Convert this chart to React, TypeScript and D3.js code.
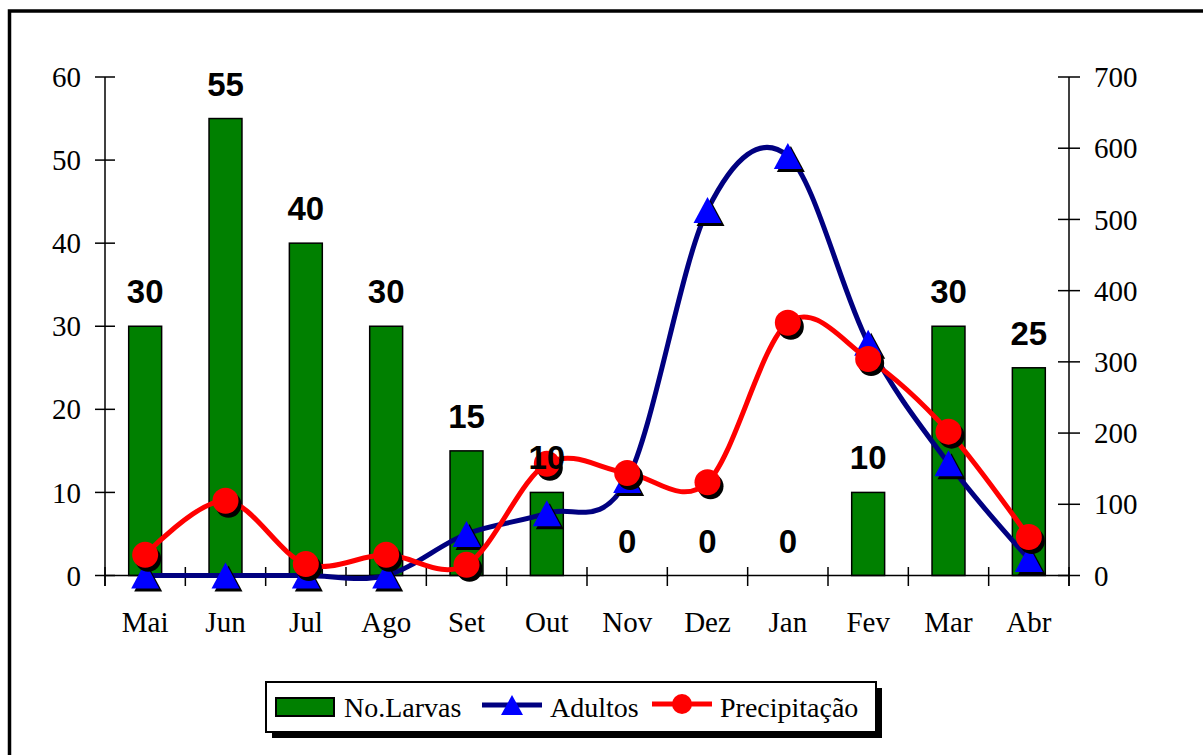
import React from 'react';
import * as d3 from 'd3';

const months = ['Mai', 'Jun', 'Jul', 'Ago', 'Set', 'Out', 'Nov', 'Dez', 'Jan', 'Fev', 'Mar', 'Abr'];
const larvas = [30, 55, 40, 30, 15, 10, 0, 0, 0, 10, 30, 25];
const adultos = [0, 0, 0, 0, 5, 7.5, 11.5, 44, 50.5, 28, 13.5, 2];
const precip = [29, 105, 16, 29, 15, 157, 144, 131, 355, 304, 202, 54];
const leftTicks = [0, 10, 20, 30, 40, 50, 60];
const rightTicks = [0, 100, 200, 300, 400, 500, 600, 700];

const W = 1203;
const H = 755;
const X0 = 105;
const X1 = 1069;
const Y0 = 575.5;
const Y1 = 77;

const serif = '"Liberation Serif", "Times New Roman", serif';
const sans = '"Liberation Sans", Arial, sans-serif';

function tri(cx: number, cy: number, w = 28, h = 26) {
  return `M${cx},${cy - h / 2}L${cx + w / 2},${cy + h / 2}L${cx - w / 2},${cy + h / 2}Z`;
}

export default function App() {
  const x = d3.scalePoint<string>().domain(months).range([X0, X1]).padding(0.5);
  const step = x.step();
  const yL = d3.scaleLinear().domain([0, 60]).range([Y0, Y1]);
  const yR = d3.scaleLinear().domain([0, 700]).range([Y0, Y1]);
  const barW = step * 0.41;

  const curve = d3.curveCatmullRom.alpha(0);
  const adLine = d3
    .line<number>()
    .x((_, i) => x(months[i]) as number)
    .y((d) => yL(d))
    .curve(curve);
  const prLine = d3
    .line<number>()
    .x((_, i) => x(months[i]) as number)
    .y((d) => yR(d))
    .curve(curve);

  const boundaries = d3.range(months.length + 1).map((i) => X0 + i * step);

  return (
    <svg
      width={W}
      height={H}
      style={{ position: 'absolute', left: 0, top: 0, background: '#fff' }}
    >
      <rect x={0} y={0} width={W} height={H} fill="#fff" />
      {/* outer border */}
      <rect x={9.5} y={11} width={1400} height={1000} fill="none" stroke="#000" strokeWidth={3.5} />

      {/* bars */}
      {larvas.map((v, i) => (
        <rect
          key={'b' + i}
          x={(x(months[i]) as number) - barW / 2}
          y={yL(v)}
          width={barW}
          height={Y0 - yL(v)}
          fill="#008000"
          stroke="#000"
          strokeWidth={1.5}
          visibility={v > 0 ? 'visible' : 'hidden'}
        />
      ))}

      {/* axes */}
      <line x1={X0} y1={Y1} x2={X0} y2={586} stroke="#000" strokeWidth={1.5} />
      <line x1={X1} y1={Y1} x2={X1} y2={586} stroke="#000" strokeWidth={1.5} />
      <line x1={X0} y1={Y0} x2={X1} y2={Y0} stroke="#000" strokeWidth={1.5} />
      {leftTicks.map((t) => (
        <g key={'lt' + t}>
          <line x1={95} x2={115} y1={yL(t)} y2={yL(t)} stroke="#000" strokeWidth={1.5} />
          <text x={81} y={yL(t)} dy="0.35em" textAnchor="end" fontFamily={serif} fontSize={29}>
            {t}
          </text>
        </g>
      ))}
      {rightTicks.map((t) => (
        <g key={'rt' + t}>
          <line x1={1058} x2={1080} y1={yR(t)} y2={yR(t)} stroke="#000" strokeWidth={1.5} />
          <text x={1094} y={yR(t)} dy="0.35em" textAnchor="start" fontFamily={serif} fontSize={29}>
            {t}
          </text>
        </g>
      ))}
      {boundaries.map((bx, i) => (
        <line key={'xt' + i} x1={bx} x2={bx} y1={567} y2={586} stroke="#000" strokeWidth={1.5} />
      ))}
      {months.map((m) => (
        <text key={'m' + m} x={x(m)} y={632} textAnchor="middle" fontFamily={serif} fontSize={29}>
          {m}
        </text>
      ))}

      {/* Adultos */}
      <path d={adLine(adultos) || ''} fill="none" stroke="#000080" strokeWidth={5} />
      {adultos.map((v, i) => (
        <g key={'a' + i}>
          <path d={tri((x(months[i]) as number) + 3, yL(v) + 3)} fill="#000" />
          <path d={tri(x(months[i]) as number, yL(v))} fill="#0000ff" />
        </g>
      ))}

      {/* Precipitação */}
      <path d={prLine(precip) || ''} fill="none" stroke="#ff0000" strokeWidth={5} />
      {precip.map((v, i) => (
        <g key={'p' + i}>
          <circle cx={(x(months[i]) as number) + 3} cy={yR(v) + 4} r={13} fill="#000" />
          <circle cx={x(months[i]) as number} cy={yR(v)} r={13} fill="#ff0000" />
        </g>
      ))}

      {/* data labels */}
      {larvas.map((v, i) => (
        <text
          key={'l' + i}
          x={x(months[i])}
          y={yL(v) - 23}
          textAnchor="middle"
          fontFamily={sans}
          fontWeight="bold"
          fontSize={33}
        >
          {v}
        </text>
      ))}

      {/* legend */}
      <rect x={272} y={688} width={610} height={50} fill="#000" />
      <rect x={266} y={682} width={610} height={50} fill="#fff" stroke="#000" strokeWidth={2} />
      <rect x={276} y={698} width={58} height={18} fill="#008000" stroke="#000" strokeWidth={2} />
      <text x={344} y={717} fontFamily={serif} fontSize={28}>
        No.Larvas
      </text>
      <line x1={482} x2={542} y1={705} y2={705} stroke="#000080" strokeWidth={5} />
      <path d={tri(512, 705, 22, 20)} fill="#0000ff" />
      <text x={550} y={717} fontFamily={serif} fontSize={28}>
        Adultos
      </text>
      <line x1={652} x2={712} y1={704} y2={704} stroke="#ff0000" strokeWidth={5} />
      <circle cx={682} cy={704} r={10} fill="#ff0000" />
      <text x={720} y={717} fontFamily={serif} fontSize={28}>
        Precipitação
      </text>
    </svg>
  );
}
